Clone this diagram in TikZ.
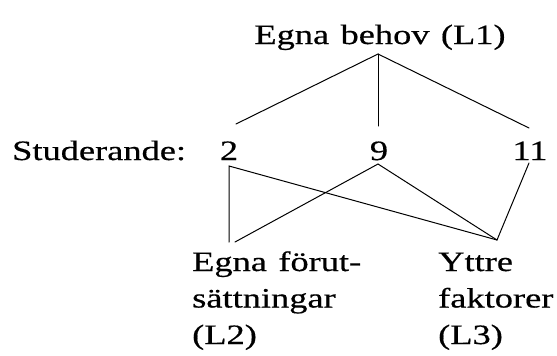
\documentclass[tikz,border=0pt]{standalone}
\usepackage{fontspec}
\setmainfont{Liberation Serif}[FakeStretch=1.3, WordSpace=1.25, FakeBold=0.5]
\begin{document}
\begin{tikzpicture}[x=1pt, y=-1pt,
  label/.style={inner sep=0pt, font=\fontsize{28}{36.5}\selectfont},
  link/.style={line width=1pt, line cap=round, line join=miter}]
\useasboundingbox (0,0) rectangle (557,356);

% level labels and student numbers
\node[label, anchor=base] (l1) at (380,44) {Egna behov (L1)};
\node[label, anchor=base west] (stud) at (12,160) {Studerande:};
\node[label, anchor=base] (s2) at (229,160) {2};
\node[label, anchor=base] (s9) at (379,160) {9};
\node[label, anchor=base] (s11) at (530,160) {11};
% multi-line labels: the base anchor sits on the last line
\node[label, anchor=base west, align=left] (l2) at (192,344) {Egna förut-\\sättningar\\(L2)};
\node[label, anchor=base west, align=left] (l3) at (438,344) {Yttre\\faktorer\\(L3)};

% connection points next to the labels
\coordinate (apex) at (378,54);
\coordinate (t2) at (236,124);
\coordinate (t9) at (378,126);
\coordinate (t11) at (529,128);
\coordinate (b2) at (229,166);
\coordinate (b9) at (378,164);
\coordinate (b11) at (529,163);
\coordinate (e2) at (229,242);
\coordinate (e9) at (235,242);
\coordinate (e3) at (497,240);

% L1 to the students
\draw[link] (t2) -- (apex) -- (t11);
\draw[link] (apex) -- (t9);
% students to L2 and L3
\draw[link] (e2) -- (b2) -- (e3);
\draw[link] (e9) -- (b9) -- (e3);
\draw[link] (b11) -- (e3);
\end{tikzpicture}
\end{document}
